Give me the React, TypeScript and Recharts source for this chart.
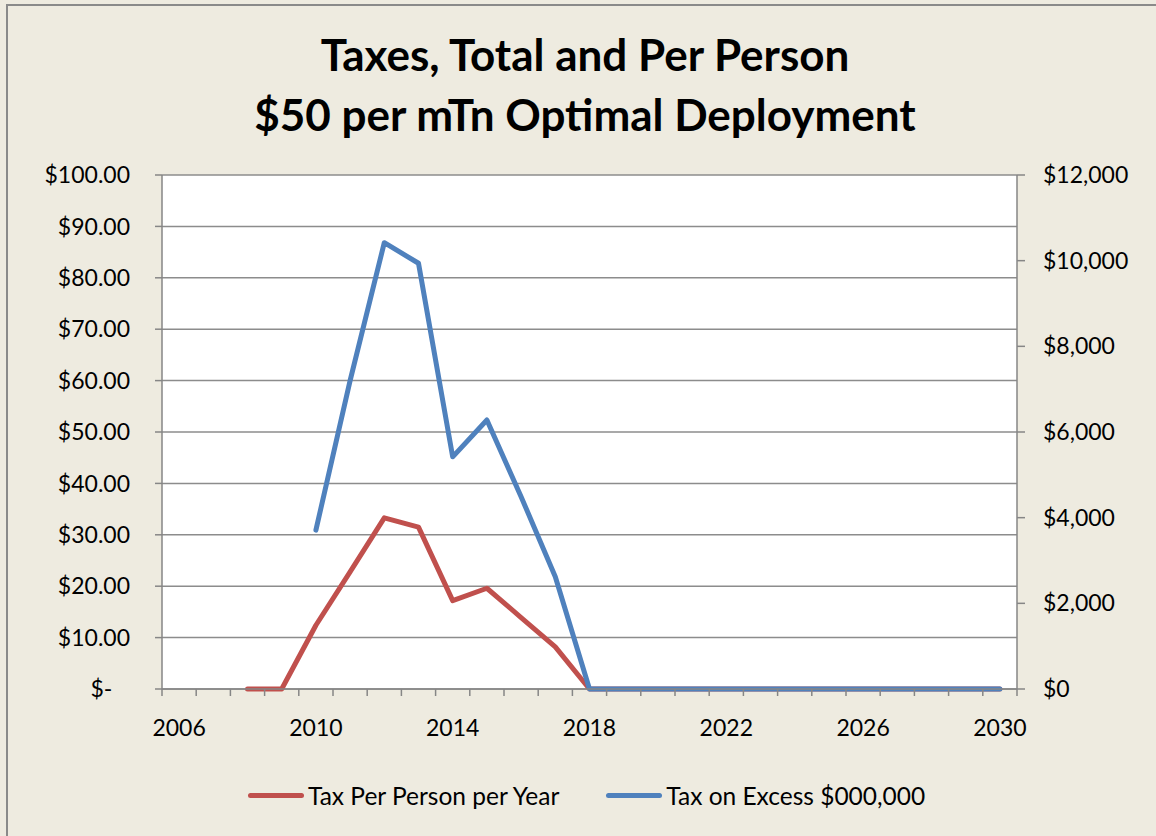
import React from 'react';
import { LineChart, Line, XAxis, YAxis, CartesianGrid } from 'recharts';

const years = [
  2006, 2007, 2008, 2009, 2010, 2011, 2012, 2013, 2014, 2015, 2016, 2017, 2018,
  2019, 2020, 2021, 2022, 2023, 2024, 2025, 2026, 2027, 2028, 2029, 2030,
];

// $ per person per year (left axis)
const perPerson = [
  null, null, 0, 0, 12.4, 22.8, 33.3, 31.5, 17.2, 19.6, 13.9, 8.2, 0,
  0, 0, 0, 0, 0, 0, 0, 0, 0, 0, 0, 0,
];

// tax on excess, $000,000 (right axis)
const excessTax = [
  null, null, null, null, 3710, 7200, 10420, 9940, 5420, 6280, 4490, 2620, 0,
  0, 0, 0, 0, 0, 0, 0, 0, 0, 0, 0, 0,
];

const yearLabels = [2006, 2010, 2014, 2018, 2022, 2026, 2030];
const leftTicks = [0, 10, 20, 30, 40, 50, 60, 70, 80, 90, 100];
const rightTicks = [0, 2000, 4000, 6000, 8000, 10000, 12000];

const series = [
  { key: 'perPerson', name: 'Tax Per Person per Year', color: '#C0504D', axis: 'left' },
  { key: 'excessTax', name: 'Tax on Excess $000,000', color: '#4F81BD', axis: 'right' },
];

const data = years.map((year, i) => ({
  year,
  perPerson: perPerson[i],
  excessTax: excessTax[i],
}));

// tick marks sit between the yearly categories, like Excel's category axis
const boundaryTicks = [...years.map((y) => y - 0.5), years[years.length - 1] + 0.5];

const W = 1156;
const H = 836;
const margin = { top: 175, right: 39, bottom: 89, left: 62 };
const yAxisW = 100;
const plotW = W - margin.left - margin.right - 2 * yAxisW;
const band = plotW / years.length;

const FONT = 'Lato, "Open Sans", sans-serif';
const axisColor = '#868686';
const tickStyle = { fill: '#000', fontSize: 23, fontFamily: FONT };

const fmtLeft = (v: number) => (v === 0 ? '$-\u00a0\u00a0\u00a0' : `$${v.toFixed(2)}`);
const fmtRight = (v: number) => `$${v.toLocaleString('en-US')}`;

// label sits in the middle of the year's band, to the right of the boundary tick
const YearTick = (props: any) => {
  const { x, y, payload } = props;
  const year = payload.value + 0.5;
  if (!yearLabels.includes(year)) return null;
  return (
    <text
      x={x + band / 2}
      y={y + 22}
      dy="0.71em"
      textAnchor="middle"
      fill="#000"
      fontSize={23}
      fontFamily={FONT}
    >
      {year}
    </text>
  );
};

export default function App() {
  return (
    <div
      style={{
        position: 'absolute',
        left: 0,
        top: 0,
        width: W,
        height: H,
        background: '#EEEBE0',
        overflow: 'hidden',
        fontFamily: FONT,
      }}
    >
      <div
        style={{
          position: 'absolute',
          left: 6,
          top: 4,
          width: 1200,
          height: 900,
          borderLeft: '2px solid #8a8a8a',
          borderTop: '2px solid #8a8a8a',
        }}
      />
      <div
        style={{
          position: 'absolute',
          left: 0,
          width: 1170,
          top: 24,
          textAlign: 'center',
          fontWeight: 'bold',
          fontSize: 44,
          lineHeight: '60px',
          color: '#000',
        }}
      >
        Taxes, Total and Per Person
        <br />
        $50 per mTn Optimal Deployment
      </div>

      <div style={{ position: 'absolute', left: 0, top: 0 }}>
        <LineChart width={W} height={H} data={data} margin={margin}>
          <CartesianGrid
            yAxisId="left"
            vertical={false}
            stroke="#8c8c8c"
            strokeWidth={1.5}
            fill="#FFFFFF"
            fillOpacity={1}
          />
          <XAxis
            dataKey="year"
            type="number"
            domain={[2005.5, 2030.5]}
            ticks={boundaryTicks}
            interval={0}
            height={58}
            stroke={axisColor}
            strokeWidth={1.5}
            tickSize={7}
            tick={<YearTick />}
          />
          <YAxis
            yAxisId="left"
            orientation="left"
            width={yAxisW}
            domain={[0, 100]}
            ticks={leftTicks}
            interval={0}
            stroke={axisColor}
            strokeWidth={1.5}
            tickSize={7}
            tickMargin={25}
            tick={tickStyle}
            tickFormatter={fmtLeft}
          />
          <YAxis
            yAxisId="right"
            orientation="right"
            width={yAxisW}
            domain={[0, 12000]}
            ticks={rightTicks}
            interval={0}
            stroke={axisColor}
            strokeWidth={1.5}
            tickSize={8}
            tickMargin={18}
            tick={tickStyle}
            tickFormatter={fmtRight}
          />
          {series.map((s) => (
            <Line
              key={s.key}
              yAxisId={s.axis}
              type="linear"
              dataKey={s.key}
              name={s.name}
              stroke={s.color}
              strokeWidth={5}
              strokeLinecap="round"
              strokeLinejoin="round"
              dot={false}
              activeDot={false}
              isAnimationActive={false}
            />
          ))}
        </LineChart>
      </div>

      <div
        style={{
          position: 'absolute',
          top: 781,
          left: 248,
          display: 'flex',
          alignItems: 'center',
          fontSize: 24.5,
          color: '#000',
          whiteSpace: 'nowrap',
        }}
      >
        {series.map((s, i) => (
          <div
            key={s.key}
            style={{ display: 'flex', alignItems: 'center', marginRight: i === 0 ? 47 : 0 }}
          >
            <span
              style={{
                display: 'inline-block',
                width: 56,
                height: 5,
                borderRadius: 3,
                background: s.color,
                marginRight: 4,
              }}
            />
            <span>{s.name}</span>
          </div>
        ))}
      </div>
    </div>
  );
}
